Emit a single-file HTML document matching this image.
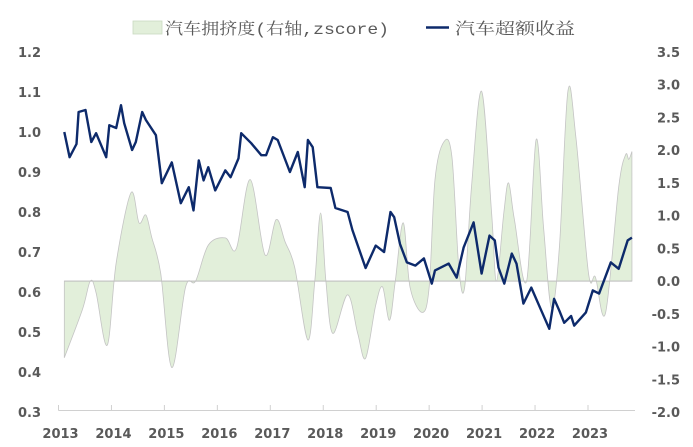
<!DOCTYPE html>
<html><head><meta charset="utf-8"><style>
html,body{margin:0;padding:0;background:#fff;}
svg{display:block;}
text{font-family:"DejaVu Sans","Liberation Sans",sans-serif;}
.tk{font-size:13px;font-weight:bold;fill:#595959;}
.lg{font-family:"Liberation Mono","Noto Serif CJK SC",serif;font-size:16px;fill:#595959;}
</style></head><body>
<svg id="chart" width="693" height="447" viewBox="0 0 693 447">
<g id="legend">
  <rect x="133" y="21" width="29" height="13" fill="#e2efda" stroke="#c9d9c0" stroke-width="0.8"/>
  <text class="lg" x="165" y="34" textLength="224" lengthAdjust="spacingAndGlyphs">汽车拥挤度(右轴,zscore)</text>
  <line x1="426" y1="27.5" x2="449" y2="27.5" stroke="#0d2a6b" stroke-width="2.5"/>
  <text class="lg" x="455" y="34" textLength="120" lengthAdjust="spacingAndGlyphs">汽车超额收益</text>
</g>
<g id="plot"></g>
</svg>
<script>
const leftTicks=["1.2","1.1","1.0","0.9","0.8","0.7","0.6","0.5","0.4","0.3"];
const leftVals=[1.2,1.1,1.0,0.9,0.8,0.7,0.6,0.5,0.4,0.3];
const rightTicks=["3.5","3.0","2.5","2.0","1.5","1.0","0.5","0.0","-0.5","-1.0","-1.5","-2.0"];
const rightVals=[3.5,3.0,2.5,2.0,1.5,1.0,0.5,0.0,-0.5,-1.0,-1.5,-2.0];
const years=[2013,2014,2015,2016,2017,2018,2019,2020,2021,2022,2023];
const lineDates=[2013.11,2013.21,2013.34,2013.38,2013.51,2013.62,2013.71,2013.90,2013.96,2014.09,2014.18,2014.24,2014.39,2014.46,2014.58,2014.65,2014.84,2014.95,2015.14,2015.31,2015.46,2015.55,2015.65,2015.74,2015.83,2015.96,2016.15,2016.25,2016.40,2016.45,2016.64,2016.83,2016.92,2017.05,2017.14,2017.37,2017.52,2017.65,2017.71,2017.80,2017.89,2018.14,2018.23,2018.46,2018.55,2018.80,2018.99,2019.15,2019.27,2019.34,2019.45,2019.58,2019.74,2019.90,2020.05,2020.11,2020.37,2020.52,2020.65,2020.84,2020.99,2021.14,2021.24,2021.31,2021.42,2021.56,2021.65,2021.78,2021.93,2022.12,2022.27,2022.36,2022.46,2022.55,2022.68,2022.74,2022.96,2023.09,2023.21,2023.43,2023.58,2023.75,2023.83];
const lineVals=[1.0,0.937,0.97,1.05,1.055,0.975,0.997,0.937,1.017,1.01,1.067,1.022,0.955,0.975,1.05,1.03,0.992,0.872,0.924,0.822,0.862,0.804,0.929,0.879,0.912,0.854,0.904,0.887,0.934,0.997,0.972,0.942,0.942,0.987,0.98,0.9,0.95,0.862,0.98,0.962,0.862,0.86,0.81,0.8,0.755,0.66,0.716,0.70,0.80,0.787,0.72,0.674,0.666,0.684,0.621,0.654,0.671,0.636,0.711,0.774,0.646,0.741,0.729,0.661,0.621,0.696,0.671,0.571,0.611,0.553,0.508,0.583,0.553,0.523,0.54,0.516,0.549,0.604,0.596,0.674,0.658,0.729,0.736];
const areaDates=[2013.11,2013.45,2013.60,2013.71,2013.92,2014.09,2014.37,2014.52,2014.65,2014.76,2014.93,2015.14,2015.40,2015.59,2015.83,2016.15,2016.36,2016.62,2016.90,2017.11,2017.28,2017.46,2017.71,2017.84,2017.95,2018.05,2018.18,2018.46,2018.65,2018.80,2018.99,2019.12,2019.25,2019.36,2019.51,2019.64,2019.87,2020.00,2020.11,2020.28,2020.43,2020.56,2020.67,2020.80,2020.99,2021.18,2021.27,2021.41,2021.50,2021.61,2021.84,2022.02,2022.16,2022.31,2022.46,2022.62,2022.77,2023.01,2023.14,2023.33,2023.58,2023.71,2023.77,2023.83];
const areaVals=[-1.17,-0.44,0.0,-0.18,-0.98,0.28,1.35,0.89,1.01,0.67,0.12,-1.32,-0.09,0.0,0.55,0.66,0.5,1.55,0.4,0.94,0.6,0.21,-0.9,0.0,1.04,0.0,-0.8,-0.21,-0.8,-1.18,-0.37,-0.09,-0.6,0.0,0.89,-0.1,-0.48,-0.09,1.55,2.13,1.9,0.21,-0.1,1.44,2.9,1.04,0.0,1.04,1.5,0.94,0.0,2.16,0.83,-0.41,0.52,2.9,2.21,0.12,0.06,-0.49,1.44,1.93,1.86,1.98];

const NS="http://www.w3.org/2000/svg";
const plot=document.getElementById('plot');
const xS=t=>58.5+(t-2013)*52.95;
const yL=v=>52+(1.2-v)*400;
const yR=v=>52+(3.5-v)*65.45;
function mk(tag,attrs){const e=document.createElementNS(NS,tag);for(const k in attrs)e.setAttribute(k,attrs[k]);plot.appendChild(e);return e;}
function smooth(p){
  let s="";
  for(let i=0;i<p.length-1;i++){
    const p0=p[Math.max(0,i-1)],p1=p[i],p2=p[i+1],p3=p[Math.min(p.length-1,i+2)];
    const c1x=p1[0]+(p2[0]-p0[0])/6,c1y=p1[1]+(p2[1]-p0[1])/6;
    const c2x=p2[0]-(p3[0]-p1[0])/6,c2y=p2[1]-(p3[1]-p1[1])/6;
    s+=" C"+c1x.toFixed(1)+","+c1y.toFixed(1)+" "+c2x.toFixed(1)+","+c2y.toFixed(1)+" "+p2[0].toFixed(1)+","+p2[1].toFixed(1);
  }
  return s;
}

// area
const ap=areaDates.map((t,i)=>[xS(t),yR(areaVals[i])]);
let d="M"+xS(areaDates[0])+","+yR(0)+" L"+ap[0][0].toFixed(1)+","+ap[0][1].toFixed(1)+smooth(ap);
d+=" L"+xS(areaDates[areaDates.length-1])+","+yR(0)+" Z";
const area=mk('path',{d:d,fill:'#e2efda',stroke:'#c4c4c4','stroke-width':'0.8'});


const zl=mk('line',{x1:xS(areaDates[0]),x2:xS(areaDates[areaDates.length-1]),y1:yR(0),y2:yR(0),stroke:'#bfbfbf','stroke-width':'1'});



// line
const pts=lineDates.map((t,i)=>xS(t).toFixed(1)+","+yL(lineVals[i]).toFixed(1)).join(" ");
const ln=mk('polyline',{points:pts,fill:'none',stroke:'#0d2a6b','stroke-width':'2.4','stroke-linejoin':'round'});



// x axis
const ax=mk('line',{x1:58.5,x2:635,y1:410.5,y2:410.5,stroke:'#d0d0d0','stroke-width':'1'});


years.forEach(y=>{
  const t=mk('line',{x1:xS(y),x2:xS(y),y1:405,y2:410.5,stroke:'#d0d0d0','stroke-width':'1'});
  
  
  const l=mk('text',{x:xS(y)+2,y:438,'text-anchor':'middle',class:'tk'});
  l.textContent=String(y);
  
  
});
leftVals.forEach((v,i)=>{
  const l=mk('text',{x:41,y:yL(v)+5,'text-anchor':'end',class:'tk'});
  l.textContent=leftTicks[i];
  
  
});
rightVals.forEach((v,i)=>{
  const l=mk('text',{x:680,y:yR(v)+5,'text-anchor':'end',class:'tk'});
  l.textContent=rightTicks[i];
  
  
});
</script>
</body></html>
